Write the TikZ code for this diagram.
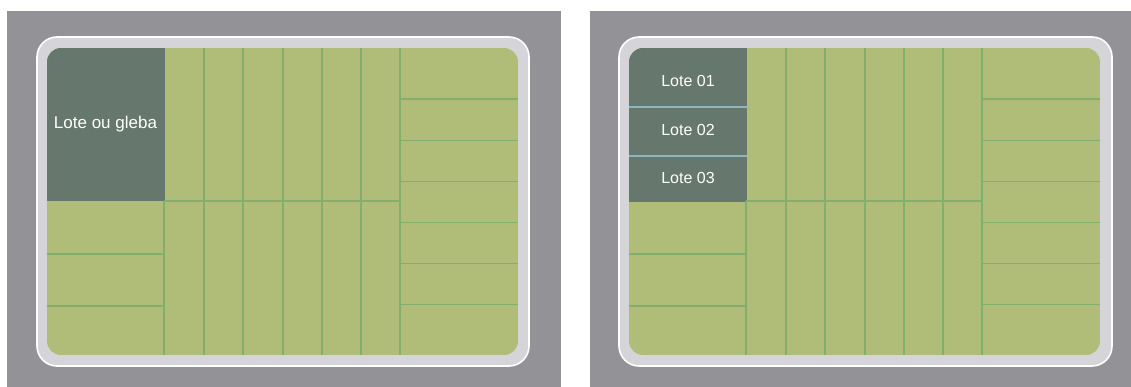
\documentclass[tikz,border=0pt]{standalone}
\usepackage{fontspec}
\setmainfont{Liberation Sans}
\definecolor{bggray}{HTML}{939397}
\definecolor{framegray}{HTML}{D5D5D9}
\definecolor{lotgreen}{HTML}{B0BD78}
\definecolor{gridgreen}{HTML}{82B06C}
\definecolor{darklot}{HTML}{66786E}
\definecolor{bluesep}{HTML}{8FB4BE}
\tikzset{
  panelbg/.style={fill=bggray, draw=none},
  framebox/.style={fill=framegray, draw=white, line width=1.6pt, rounded corners=20pt},
  gridline/.style={draw=gridgreen, line width=1.1pt},
  lotsep/.style={draw=bluesep, line width=1.3pt},
  lotlabel/.style={text=white, font=\fontsize{17}{20}\selectfont, inner sep=0pt},
  smalllabel/.style={text=white, font=\fontsize{16}{19}\selectfont, inner sep=0pt}
}
\newcommand{\panelgrid}{%
  \foreach \xx in {204,243,283,322,361} \draw[gridline] (\xx,48) -- (\xx,355);
  \draw[gridline] (164,201) -- (164,355);
  \draw[gridline] (400,48) -- (400,355);
  \draw[gridline] (164,201) -- (400,201);
  \foreach \yy in {254,306} \draw[gridline] (47,\yy) -- (164,\yy);
  \foreach \yy in {99,140.7,181.7,222.7,263.3,304.3} \draw[gridline] (400,\yy) -- (518,\yy);
}
\begin{document}
\begin{tikzpicture}[x=1pt,y=-1pt]
\useasboundingbox (0,0) rectangle (1131,387);
\fill[white] (0,0) rectangle (1131,387);
% ---------- left panel ----------
\fill[panelbg] (7,11) rectangle (561,387);
\draw[framebox] (37,37) rectangle (529,366);
\begin{scope}
  \clip[rounded corners=14pt] (47,48) rectangle (518,355);
  \fill[lotgreen] (47,48) rectangle (518,355);
  \fill[darklot] (47,48) rectangle (164.5,201.5);
  \panelgrid
\end{scope}
\node[lotlabel] (gleba) at (105.5,124.5) {Lote ou gleba};
% ---------- right panel ----------
\begin{scope}[xshift=582pt]
  \fill[panelbg] (8,11) rectangle (549,387);
  \draw[framebox] (37,37) rectangle (530,366);
  \begin{scope}
    \clip[rounded corners=14pt] (47,48) rectangle (518,355);
    \fill[lotgreen] (47,48) rectangle (518,355);
    \fill[darklot] (47,48) rectangle (165,202);
    \panelgrid
    \draw[lotsep] (47,107) -- (165,107);
    \draw[lotsep] (47,156) -- (165,156);
  \end{scope}
  \node[smalllabel] (lote01) at (106,81) {Lote 01};
  \node[smalllabel] (lote02) at (106,130) {Lote 02};
  \node[smalllabel] (lote03) at (106,178) {Lote 03};
\end{scope}
\end{tikzpicture}
\end{document}
